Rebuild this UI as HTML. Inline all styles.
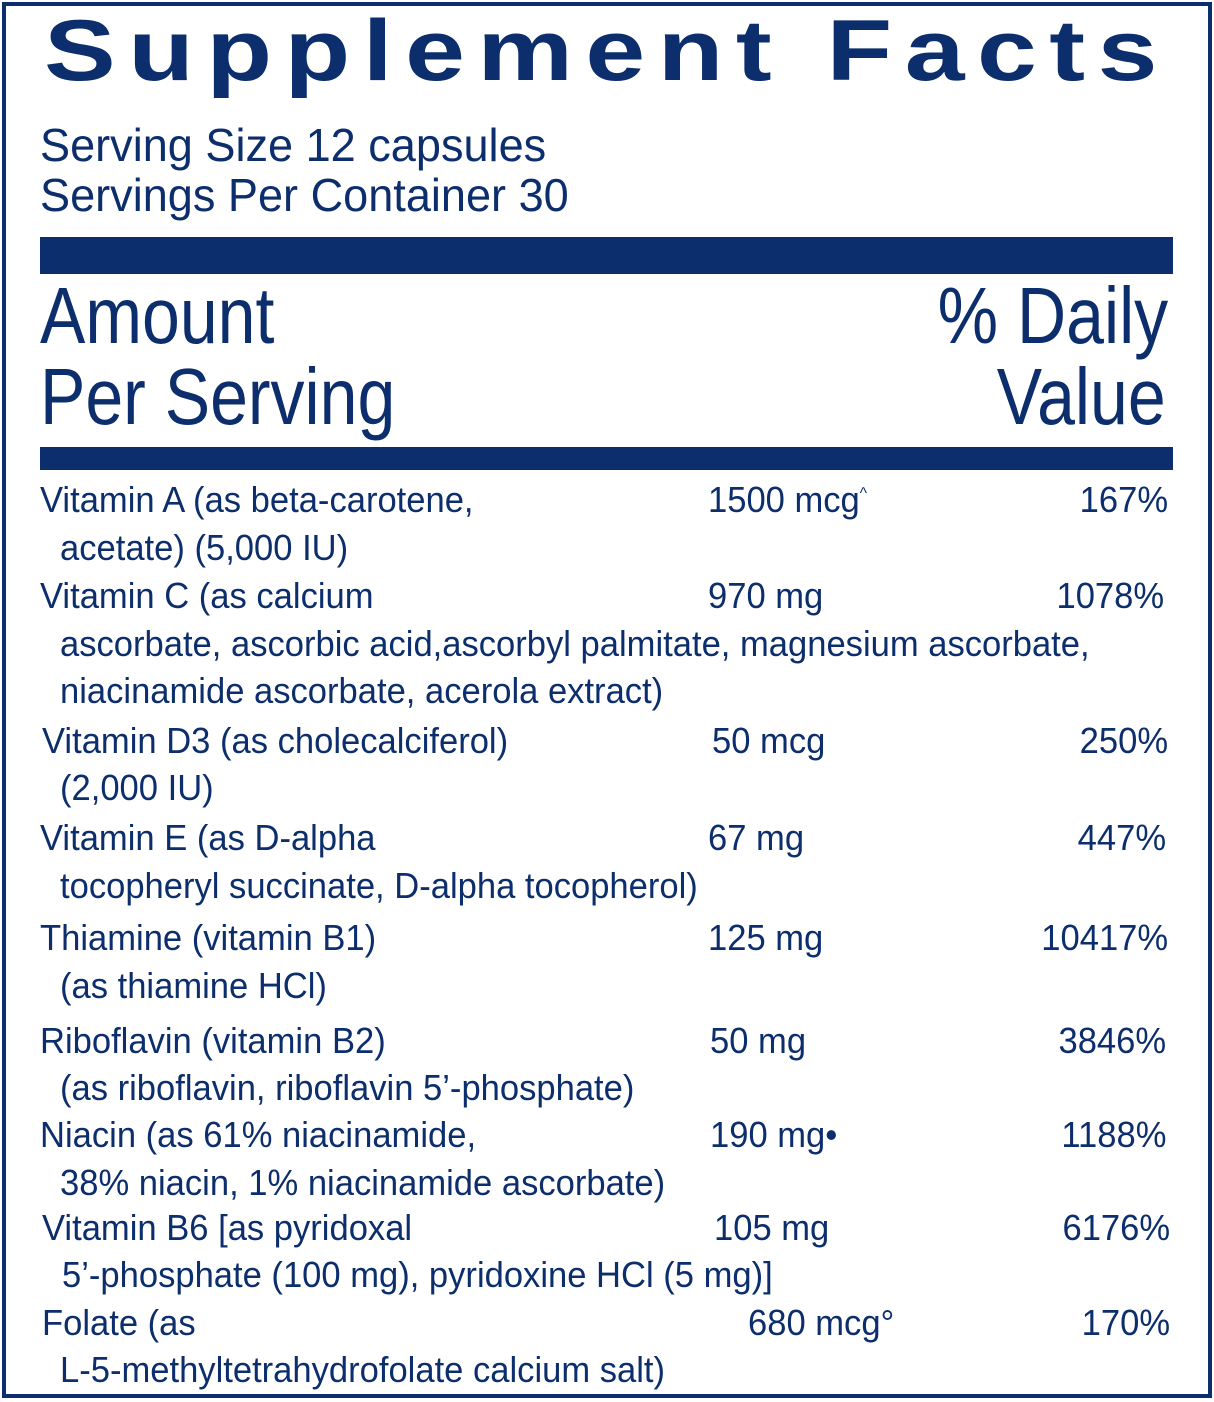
<!DOCTYPE html>
<html><head><meta charset="utf-8"><style>
html,body{margin:0;padding:0;background:#fff}
#p{position:relative;width:1214px;height:1402px;overflow:hidden;color:#0c2e6c;font-family:"Liberation Sans",sans-serif}
.b{position:absolute;left:2px;top:2px;width:1202px;height:1388px;border:4px solid #0c2e6c}
.t{position:absolute;white-space:nowrap;font-size:36px;line-height:36px;transform:scaleX(.96);transform-origin:left top}
.r{transform-origin:right top;text-align:right}
.bar{position:absolute;left:40px;width:1133px;background:#0c2e6c}
.s{position:relative;top:-14px;font-size:16px}
</style></head><body><div id="p">
<div class="b"></div>
<div style="position:absolute;left:44px;top:8px;font-weight:bold;font-size:86px;line-height:86px;letter-spacing:10px;white-space:nowrap;transform:scaleX(1.25);transform-origin:left top">Supplement Facts</div>
<div class="t" style="left:40px;top:122px;font-size:46px;line-height:46px;transform:scaleX(.98)">Serving Size 12 capsules</div>
<div class="t" style="left:40px;top:172px;font-size:46px;line-height:46px;transform:scaleX(.98)">Servings Per Container 30</div>
<div class="bar" style="top:237px;height:37px"></div>
<div class="t" style="left:40px;top:276px;font-size:80px;line-height:80px;transform:scaleX(.85)">Amount</div>
<div class="t" style="left:40px;top:357px;font-size:80px;line-height:80px;transform:scaleX(.85)">Per Serving</div>
<div class="t r" style="right:46px;top:276px;font-size:80px;line-height:80px;transform:scaleX(.85)">% Daily</div>
<div class="t r" style="right:48px;top:357px;font-size:80px;line-height:80px;transform:scaleX(.85)">Value</div>
<div class="bar" style="top:447px;height:23px"></div>

<div class="t" style="left:40px;top:482px">Vitamin A (as beta-carotene,</div>
<div class="t" style="left:708px;top:482px">1500 mcg<span class="s">^</span></div>
<div class="t r" style="right:46px;top:482px">167%</div>
<div class="t" style="left:60px;top:530px">acetate) (5,000 IU)</div>

<div class="t" style="left:40px;top:578px">Vitamin C (as calcium</div>
<div class="t" style="left:708px;top:578px">970 mg</div>
<div class="t r" style="right:50px;top:578px">1078%</div>
<div class="t" style="left:60px;top:626px">ascorbate, ascorbic acid,ascorbyl palmitate, magnesium ascorbate,</div>
<div class="t" style="left:60px;top:673px">niacinamide ascorbate, acerola extract)</div>

<div class="t" style="left:42px;top:723px">Vitamin D3 (as cholecalciferol)</div>
<div class="t" style="left:712px;top:723px">50 mcg</div>
<div class="t r" style="right:46px;top:723px">250%</div>
<div class="t" style="left:60px;top:770px">(2,000 IU)</div>

<div class="t" style="left:40px;top:820px">Vitamin E (as D-alpha</div>
<div class="t" style="left:708px;top:820px">67 mg</div>
<div class="t r" style="right:48px;top:820px">447%</div>
<div class="t" style="left:60px;top:868px">tocopheryl succinate, D-alpha tocopherol)</div>

<div class="t" style="left:40px;top:920px">Thiamine (vitamin B1)</div>
<div class="t" style="left:708px;top:920px">125 mg</div>
<div class="t r" style="right:46px;top:920px">10417%</div>
<div class="t" style="left:60px;top:968px">(as thiamine HCl)</div>

<div class="t" style="left:40px;top:1023px">Riboflavin (vitamin B2)</div>
<div class="t" style="left:710px;top:1023px">50 mg</div>
<div class="t r" style="right:48px;top:1023px">3846%</div>
<div class="t" style="left:60px;top:1070px">(as riboflavin, riboflavin 5’-phosphate)</div>

<div class="t" style="left:40px;top:1117px">Niacin (as 61% niacinamide,</div>
<div class="t" style="left:710px;top:1117px">190 mg•</div>
<div class="t r" style="right:48px;top:1117px">1188%</div>
<div class="t" style="left:60px;top:1165px">38% niacin, 1% niacinamide ascorbate)</div>

<div class="t" style="left:42px;top:1210px">Vitamin B6 [as pyridoxal</div>
<div class="t" style="left:714px;top:1210px">105 mg</div>
<div class="t r" style="right:44px;top:1210px">6176%</div>
<div class="t" style="left:62px;top:1257px">5’-phosphate (100 mg), pyridoxine HCl (5 mg)]</div>

<div class="t" style="left:42px;top:1305px">Folate (as</div>
<div class="t" style="left:748px;top:1305px">680 mcg°</div>
<div class="t r" style="right:44px;top:1305px">170%</div>
<div class="t" style="left:60px;top:1352px">L-5-methyltetrahydrofolate calcium salt)</div>
</div></body></html>
